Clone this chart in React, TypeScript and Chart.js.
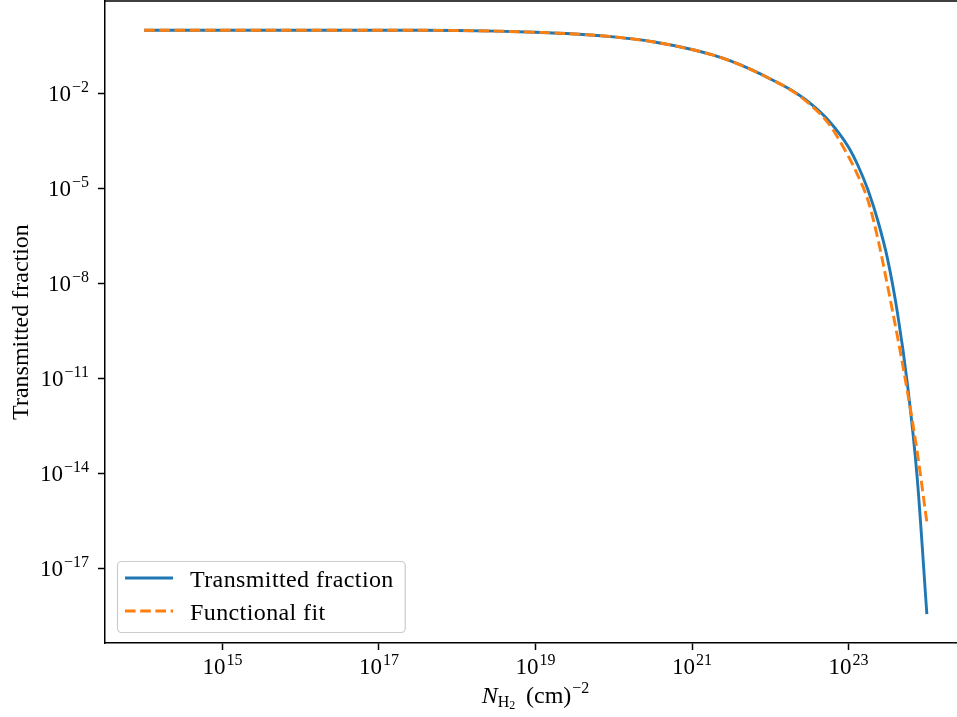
import { useEffect, useRef } from 'react';
import { Chart, registerables } from 'chart.js';

Chart.register(...registerables);

// Column density N_H2 (cm^-2)
const columnDensity = [
  1e14, 1e15, 1e16, 1e17, 3.16e17, 1e18, 3.16e18, 1e19, 3.16e19, 1e20, 3.16e20, 1e21,
  1.78e21, 3.16e21, 5.62e21, 1e22, 1.78e22, 3.16e22, 5.62e22, 1e23, 1.33e23, 1.78e23,
  2.37e23, 3.16e23, 4.22e23, 5.62e23, 7.5e23, 1e24,
];

const transmittedFraction = [
  1, 1, 1, 1, 0.9954, 0.977, 0.933, 0.861, 0.759, 0.617, 0.431, 0.245,
  0.168, 0.105, 0.0575, 0.0288, 0.0135, 5.13e-3, 1.35e-3, 2.0e-4, 5.0e-5, 8.5e-6,
  9.3e-7, 5.6e-8, 1.12e-9, 7.1e-12, 7.9e-15, 3.5e-19,
];

const functionalFit = [
  1, 1, 1, 1, 0.9954, 0.977, 0.933, 0.861, 0.759, 0.617, 0.431, 0.245,
  0.168, 0.105, 0.0575, 0.0288, 0.0134, 4.68e-3, 1.07e-3, 1.0e-4, 2.4e-5, 4.0e-6,
  2.5e-7, 7.9e-9, 2.0e-10, 4.0e-12, 5.0e-14, 2.8e-16,
];

const seriesLabels = ['Transmitted fraction', 'Functional fit'];
const xTickValues = [1e15, 1e17, 1e19, 1e21, 1e23];
const yTickValues = [1e-2, 1e-5, 1e-8, 1e-11, 1e-14, 1e-17];
const yAxisTitle = 'Transmitted fraction';
const xAxisTitleParts = { symbol: 'N', sub: 'H', subSub: '2', unit: '(cm)', sup: '\u22122' };

const FONT = '"Liberation Serif", "DejaVu Serif", serif';
const BLUE = '#1f77b4';
const ORANGE = '#ff7f0e';
const DASH = [10.6, 4.6];

const expText = (v: number) => String(Math.round(Math.log10(v))).replace('-', '\u2212');

function drawPow(ctx: CanvasRenderingContext2D, v: number, x: number, base: number, align: 'center' | 'right') {
  const b = `23px ${FONT}`;
  const s = `16px ${FONT}`;
  const e = expText(v);
  ctx.font = b; const wb = ctx.measureText('10').width;
  ctx.font = s; const we = ctx.measureText(e).width;
  const total = wb + we + 1;
  const x0 = align === 'center' ? x - total / 2 : x - total;
  ctx.textAlign = 'left';
  ctx.textBaseline = 'alphabetic';
  ctx.font = b; ctx.fillText('10', x0, base);
  ctx.font = s; ctx.fillText(e, x0 + wb + 1, base - 9);
}

const decorPlugin = {
  id: 'decor',
  afterDraw(chart: any) {
    const { ctx, chartArea: a } = chart;
    ctx.save();
    // top & right spines
    ctx.strokeStyle = '#000';
    ctx.lineWidth = 1.5;
    ctx.beginPath();
    ctx.moveTo(a.left, a.top);
    ctx.lineTo(a.right, a.top);
    ctx.lineTo(a.right, a.bottom);
    ctx.stroke();

    ctx.fillStyle = '#000';
    // tick labels (10 with superscript exponent)
    const xs = chart.scales.x;
    xs.ticks.forEach((t: any) => drawPow(ctx, t.value, xs.getPixelForValue(t.value), a.bottom + 31, 'center'));
    const ys = chart.scales.y;
    ys.ticks.forEach((t: any) => drawPow(ctx, t.value, a.left - 16, ys.getPixelForValue(t.value) + 7.5, 'right'));

    // x-axis title with sub/superscripts
    const big = `24px ${FONT}`;
    const bigIt = `italic 24px ${FONT}`;
    const mid = `16px ${FONT}`;
    const small = `12px ${FONT}`;
    const p = xAxisTitleParts;
    ctx.font = bigIt; const wN = ctx.measureText(p.symbol).width;
    ctx.font = mid; const wH = ctx.measureText(p.sub).width;
    ctx.font = small; const w2 = ctx.measureText(p.subSub).width;
    ctx.font = big; const wSp = ctx.measureText(' ').width; const wU = ctx.measureText(p.unit).width;
    ctx.font = mid; const wS = ctx.measureText(p.sup).width;
    const total = wN + wH + w2 + wSp * 1.8 + wU + wS + 1;
    let x = (a.left + a.right) / 2 - total / 2;
    const base = 703;
    ctx.textBaseline = 'alphabetic';
    ctx.textAlign = 'left';
    ctx.font = bigIt; ctx.fillText(p.symbol, x, base); x += wN;
    ctx.font = mid; ctx.fillText(p.sub, x, base + 4); x += wH;
    ctx.font = small; ctx.fillText(p.subSub, x, base + 6); x += w2 + wSp * 1.8;
    ctx.font = big; ctx.fillText(p.unit, x, base); x += wU + 1;
    ctx.font = mid; ctx.fillText(p.sup, x, base - 10);

    // legend
    const ds = chart.data.datasets;
    ctx.font = big;
    (ctx as any).letterSpacing = '0.4px';
    let maxW = 0;
    ds.forEach((d: any) => { maxW = Math.max(maxW, ctx.measureText(d.label).width); });
    const bx = a.left + 12;
    const textX = bx + 73;
    const bw = textX - bx + maxW + 11;
    const bh = 71;
    const byTop = a.bottom - 11 - bh;
    ctx.beginPath();
    ctx.roundRect(bx + 0.5, byTop + 0.5, bw, bh, 4);
    ctx.fillStyle = 'rgba(255,255,255,0.8)';
    ctx.fill();
    ctx.strokeStyle = '#cccccc';
    ctx.lineWidth = 1.2;
    ctx.stroke();
    ds.forEach((d: any, i: number) => {
      const ly = byTop + 17 + i * 33;
      ctx.beginPath();
      ctx.setLineDash(d.borderDash || []);
      ctx.strokeStyle = d.borderColor;
      ctx.lineWidth = d.borderWidth;
      ctx.moveTo(bx + 8, ly);
      ctx.lineTo(bx + 56, ly);
      ctx.stroke();
      ctx.setLineDash([]);
      ctx.fillStyle = '#000';
      ctx.font = big;
      ctx.textBaseline = 'alphabetic';
      ctx.fillText(d.label, textX, ly + 9);
    });
    (ctx as any).letterSpacing = '0px';
    ctx.restore();
  },
};

export default function App() {
  const ref = useRef<HTMLCanvasElement>(null);
  useEffect(() => {
    if (!ref.current) return;
    const chart = new Chart(ref.current, {
      type: 'line',
      data: {
        datasets: [
          {
            label: seriesLabels[0],
            data: columnDensity.map((x, i) => ({ x, y: transmittedFraction[i] })),
            borderColor: BLUE,
            borderWidth: 2.9,
            pointRadius: 0,
            cubicInterpolationMode: 'monotone',
            fill: false,
            order: 1,
          },
          {
            label: seriesLabels[1],
            data: columnDensity.map((x, i) => ({ x, y: functionalFit[i] })),
            borderColor: ORANGE,
            borderWidth: 2.9,
            borderDash: DASH,
            pointRadius: 0,
            cubicInterpolationMode: 'monotone',
            fill: false,
            order: 0,
          },
        ],
      },
      options: {
        animation: false,
        responsive: false,
        devicePixelRatio: 1,
        layout: { padding: { left: 0, top: 1, right: 14, bottom: 0 } },
        plugins: { legend: { display: false }, tooltip: { enabled: false } },
        scales: {
          x: {
            type: 'logarithmic',
            min: Math.pow(10, 13.5),
            max: Math.pow(10, 24.5),
            afterBuildTicks: (s: any) => { s.ticks = xTickValues.map((value) => ({ value })); },
            afterFit: (s: any) => { s.height = 74; s.paddingLeft = 0; s.paddingRight = 0; },
            ticks: { display: false, autoSkip: false },
            grid: { drawOnChartArea: false, drawTicks: true, tickLength: 7, tickWidth: 1.5, tickColor: '#000' },
            border: { display: true, color: '#000', width: 1.5 },
          },
          y: {
            type: 'logarithmic',
            min: Math.pow(10, -19.37),
            max: Math.pow(10, 0.9225),
            afterBuildTicks: (s: any) => { s.ticks = yTickValues.map((value) => ({ value })); },
            afterFit: (s: any) => { s.width = 105; s.paddingTop = 0; s.paddingBottom = 0; },
            ticks: { display: false, autoSkip: false },
            grid: { drawOnChartArea: false, drawTicks: true, tickLength: 7, tickWidth: 1.5, tickColor: '#000' },
            border: { display: true, color: '#000', width: 1.5 },
            title: {
              display: true,
              text: yAxisTitle,
              color: '#000',
              font: { family: FONT, size: 24 },
              padding: { top: 7, bottom: 0 },
            },
          },
        },
      },
      plugins: [decorPlugin],
    } as any);
    return () => chart.destroy();
  }, []);
  return (
    <div style={{ position: 'fixed', left: 0, top: 0, width: 957, height: 717, overflow: 'hidden', background: '#fff' }}>
      <canvas ref={ref} width={980} height={717} style={{ display: 'block' }} />
    </div>
  );
}
